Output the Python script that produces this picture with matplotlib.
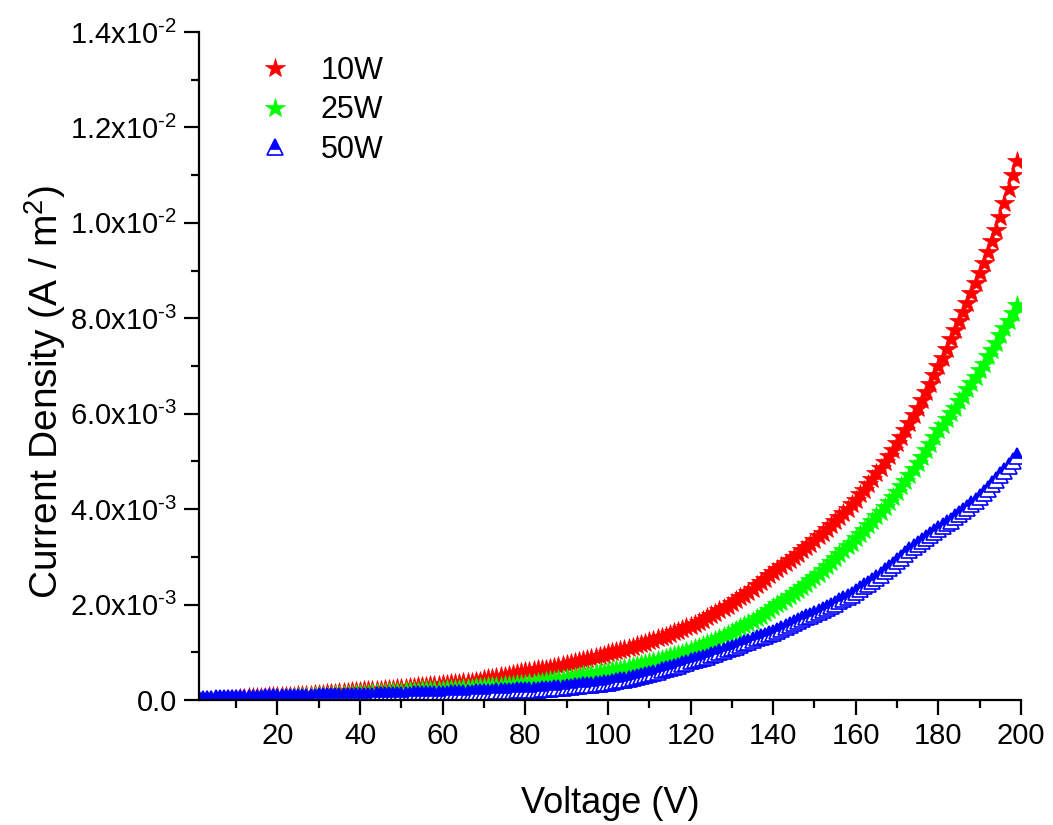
import numpy as np
import matplotlib
matplotlib.use("Agg")
import matplotlib.pyplot as plt
from matplotlib.ticker import MultipleLocator, FuncFormatter

# current density in units of 1e-3 A/m^2 at 1 V steps (1..199 V)
voltage = np.arange(1, 200)

j_10w = [
    -0.03, -0.02, -0.01, -0.01, 0.00, 0.00, 0.01, 0.02, 0.03, 0.03,
    0.04, 0.05, 0.06, 0.06, 0.07, 0.07, 0.07, 0.08, 0.08, 0.08,
    0.08, 0.09, 0.09, 0.09, 0.10, 0.10, 0.10, 0.11, 0.12, 0.12,
    0.13, 0.14, 0.14, 0.15, 0.16, 0.16, 0.17, 0.18, 0.18, 0.19,
    0.20, 0.20, 0.21, 0.22, 0.22, 0.23, 0.24, 0.24, 0.25, 0.26,
    0.26, 0.27, 0.28, 0.29, 0.29, 0.30, 0.31, 0.32, 0.32, 0.33,
    0.34, 0.35, 0.35, 0.36, 0.37, 0.38, 0.38, 0.39, 0.40, 0.45,
    0.46, 0.47, 0.48, 0.50, 0.51, 0.53, 0.54, 0.56, 0.58, 0.60,
    0.61, 0.62, 0.64, 0.65, 0.66, 0.68, 0.70, 0.71, 0.73, 0.75,
    0.77, 0.79, 0.81, 0.84, 0.86, 0.88, 0.91, 0.93, 0.95, 0.98,
    1.00, 1.03, 1.05, 1.07, 1.10, 1.12, 1.15, 1.18, 1.20, 1.23,
    1.26, 1.29, 1.32, 1.35, 1.38, 1.42, 1.45, 1.48, 1.52, 1.55,
    1.59, 1.64, 1.68, 1.73, 1.78, 1.83, 1.88, 1.93, 1.98, 2.04,
    2.09, 2.15, 2.21, 2.27, 2.33, 2.40, 2.47, 2.54, 2.61, 2.68,
    2.74, 2.80, 2.87, 2.93, 3.00, 3.07, 3.14, 3.21, 3.28, 3.36,
    3.43, 3.51, 3.59, 3.67, 3.75, 3.84, 3.92, 4.01, 4.10, 4.20,
    4.31, 4.41, 4.52, 4.64, 4.75, 4.87, 4.99, 5.12, 5.25, 5.38,
    5.52, 5.66, 5.81, 5.97, 6.13, 6.29, 6.46, 6.63, 6.81, 6.99,
    7.17, 7.36, 7.56, 7.76, 7.95, 8.14, 8.33, 8.53, 8.74, 8.95,
    9.16, 9.39, 9.61, 9.85, 10.12, 10.41, 10.70, 11.00, 11.30,
]

j_25w = [
    -0.04, -0.04, -0.03, -0.03, -0.02, -0.02, -0.01, -0.01, 0.00, 0.00,
    0.00, 0.01, 0.01, 0.02, 0.02, 0.02, 0.03, 0.03, 0.04, 0.04,
    0.04, 0.05, 0.05, 0.06, 0.06, 0.06, 0.07, 0.07, 0.08, 0.08,
    0.08, 0.09, 0.09, 0.10, 0.10, 0.10, 0.11, 0.11, 0.12, 0.12,
    0.13, 0.13, 0.14, 0.14, 0.15, 0.15, 0.16, 0.16, 0.17, 0.17,
    0.18, 0.18, 0.19, 0.19, 0.20, 0.20, 0.21, 0.21, 0.22, 0.22,
    0.23, 0.23, 0.24, 0.24, 0.25, 0.26, 0.26, 0.27, 0.27, 0.28,
    0.29, 0.29, 0.30, 0.30, 0.31, 0.32, 0.32, 0.33, 0.33, 0.34,
    0.35, 0.36, 0.37, 0.38, 0.39, 0.41, 0.42, 0.43, 0.44, 0.46,
    0.47, 0.49, 0.50, 0.52, 0.53, 0.55, 0.56, 0.58, 0.59, 0.61,
    0.63, 0.64, 0.66, 0.68, 0.70, 0.72, 0.74, 0.76, 0.78, 0.80,
    0.82, 0.84, 0.87, 0.89, 0.92, 0.94, 0.97, 0.99, 1.02, 1.05,
    1.08, 1.12, 1.15, 1.19, 1.22, 1.26, 1.30, 1.34, 1.38, 1.43,
    1.47, 1.52, 1.57, 1.61, 1.66, 1.72, 1.77, 1.83, 1.89, 1.95,
    2.01, 2.06, 2.12, 2.18, 2.24, 2.31, 2.37, 2.44, 2.51, 2.58,
    2.65, 2.73, 2.81, 2.89, 2.97, 3.05, 3.14, 3.22, 3.30, 3.39,
    3.48, 3.57, 3.66, 3.75, 3.85, 3.95, 4.05, 4.16, 4.26, 4.37,
    4.49, 4.60, 4.72, 4.85, 4.97, 5.10, 5.23, 5.37, 5.51, 5.66,
    5.77, 5.89, 6.01, 6.13, 6.26, 6.38, 6.51, 6.64, 6.78, 6.91,
    7.05, 7.20, 7.34, 7.49, 7.64, 7.79, 7.95, 8.11, 8.28,
]

j_50w = [
    0.03, 0.03, 0.03, 0.03, 0.04, 0.04, 0.04, 0.04, 0.04, 0.04,
    0.05, 0.05, 0.05, 0.05, 0.05, 0.05, 0.06, 0.06, 0.06, 0.06,
    0.06, 0.06, 0.06, 0.07, 0.07, 0.07, 0.07, 0.07, 0.07, 0.08,
    0.08, 0.08, 0.08, 0.08, 0.08, 0.08, 0.09, 0.09, 0.09, 0.09,
    0.09, 0.09, 0.09, 0.10, 0.10, 0.10, 0.10, 0.11, 0.11, 0.11,
    0.11, 0.11, 0.12, 0.12, 0.12, 0.12, 0.12, 0.13, 0.13, 0.13,
    0.13, 0.14, 0.14, 0.14, 0.15, 0.15, 0.15, 0.16, 0.16, 0.16,
    0.17, 0.17, 0.18, 0.18, 0.18, 0.19, 0.19, 0.20, 0.20, 0.21,
    0.21, 0.22, 0.22, 0.23, 0.24, 0.24, 0.25, 0.26, 0.26, 0.27,
    0.28, 0.29, 0.30, 0.31, 0.31, 0.32, 0.33, 0.34, 0.35, 0.36,
    0.38, 0.39, 0.41, 0.42, 0.44, 0.46, 0.48, 0.50, 0.53, 0.55,
    0.57, 0.59, 0.62, 0.64, 0.67, 0.69, 0.72, 0.75, 0.78, 0.81,
    0.83, 0.86, 0.89, 0.91, 0.94, 0.97, 1.00, 1.03, 1.06, 1.09,
    1.12, 1.15, 1.19, 1.22, 1.26, 1.29, 1.32, 1.35, 1.38, 1.41,
    1.45, 1.49, 1.53, 1.57, 1.61, 1.65, 1.69, 1.73, 1.77, 1.81,
    1.85, 1.89, 1.93, 1.98, 2.02, 2.07, 2.11, 2.16, 2.21, 2.26,
    2.32, 2.38, 2.44, 2.50, 2.56, 2.63, 2.70, 2.76, 2.84, 2.91,
    2.98, 3.06, 3.14, 3.21, 3.27, 3.33, 3.39, 3.45, 3.52, 3.58,
    3.64, 3.70, 3.76, 3.83, 3.89, 3.96, 4.03, 4.10, 4.17, 4.25,
    4.34, 4.43, 4.52, 4.61, 4.71, 4.80, 4.90, 5.00, 5.12,
]

labels = ["10W", "25W", "50W"]

plt.rcParams["font.family"] = ["Liberation Sans", "DejaVu Sans"]
plt.rcParams["mathtext.fontset"] = "custom"
plt.rcParams["mathtext.rm"] = "Liberation Sans"
plt.rcParams["mathtext.it"] = "Liberation Sans"

fig = plt.figure(figsize=(10.53, 8.25), dpi=100)
ax = fig.add_axes([0.189, 0.1515, 0.7806, 0.8097])

scale = 1e-3
ax.plot(voltage, np.array(j_10w) * scale, linestyle="none", marker="*",
        markersize=15, color="#ff0000", markeredgewidth=0.5, label=labels[0])
ax.plot(voltage, np.array(j_25w) * scale, linestyle="none", marker="*",
        markersize=15, color="#00ff00", markeredgewidth=0.5, label=labels[1])
ax.plot(voltage, np.array(j_50w) * scale, linestyle="none", marker="^",
        markersize=12, color="#0000ff", markerfacecolor="#0000ff",
        markerfacecoloralt="white", fillstyle="top", markeredgewidth=1.2,
        label=labels[2])

ax.set_xlim(1, 200)
ax.set_ylim(0, 0.014)

ax.xaxis.set_major_locator(MultipleLocator(20))
ax.xaxis.set_minor_locator(MultipleLocator(10))
ax.yaxis.set_major_locator(MultipleLocator(0.002))
ax.yaxis.set_minor_locator(MultipleLocator(0.001))


def sci_label(v, pos):
    if abs(v) < 1e-12:
        return "0.0"
    e = int(np.floor(np.log10(abs(v)) + 1e-9))
    m = v / 10 ** e
    # small hyphen in the exponent, as in the original
    return r"$\mathregular{%.1fx10^{‐%d}}$" % (m, -e)


ax.yaxis.set_major_formatter(FuncFormatter(sci_label))

for side in ["top", "right"]:
    ax.spines[side].set_visible(False)
for side in ["left", "bottom"]:
    ax.spines[side].set_linewidth(1.6)

ax.tick_params(which="major", direction="out", length=11, width=1.6, labelsize=21)
ax.tick_params(which="minor", direction="out", length=6, width=1.6)
ax.tick_params(axis="x", pad=5)
ax.tick_params(axis="y", pad=5)

ax.set_xlabel("Voltage (V)", fontsize=26)
ax.set_ylabel(r"Current Density (A / m$^2$)", fontsize=28)
ax.xaxis.set_label_coords(0.5, -0.128)
ax.yaxis.set_label_coords(-0.16, 0.461)

ax.legend(loc="upper left", bbox_to_anchor=(0.04, 1.005), frameon=False,
          fontsize=22, numpoints=1, handlelength=1.0, handletextpad=1.0,
          labelspacing=0.3)

fig.savefig("out.png", dpi=100)
